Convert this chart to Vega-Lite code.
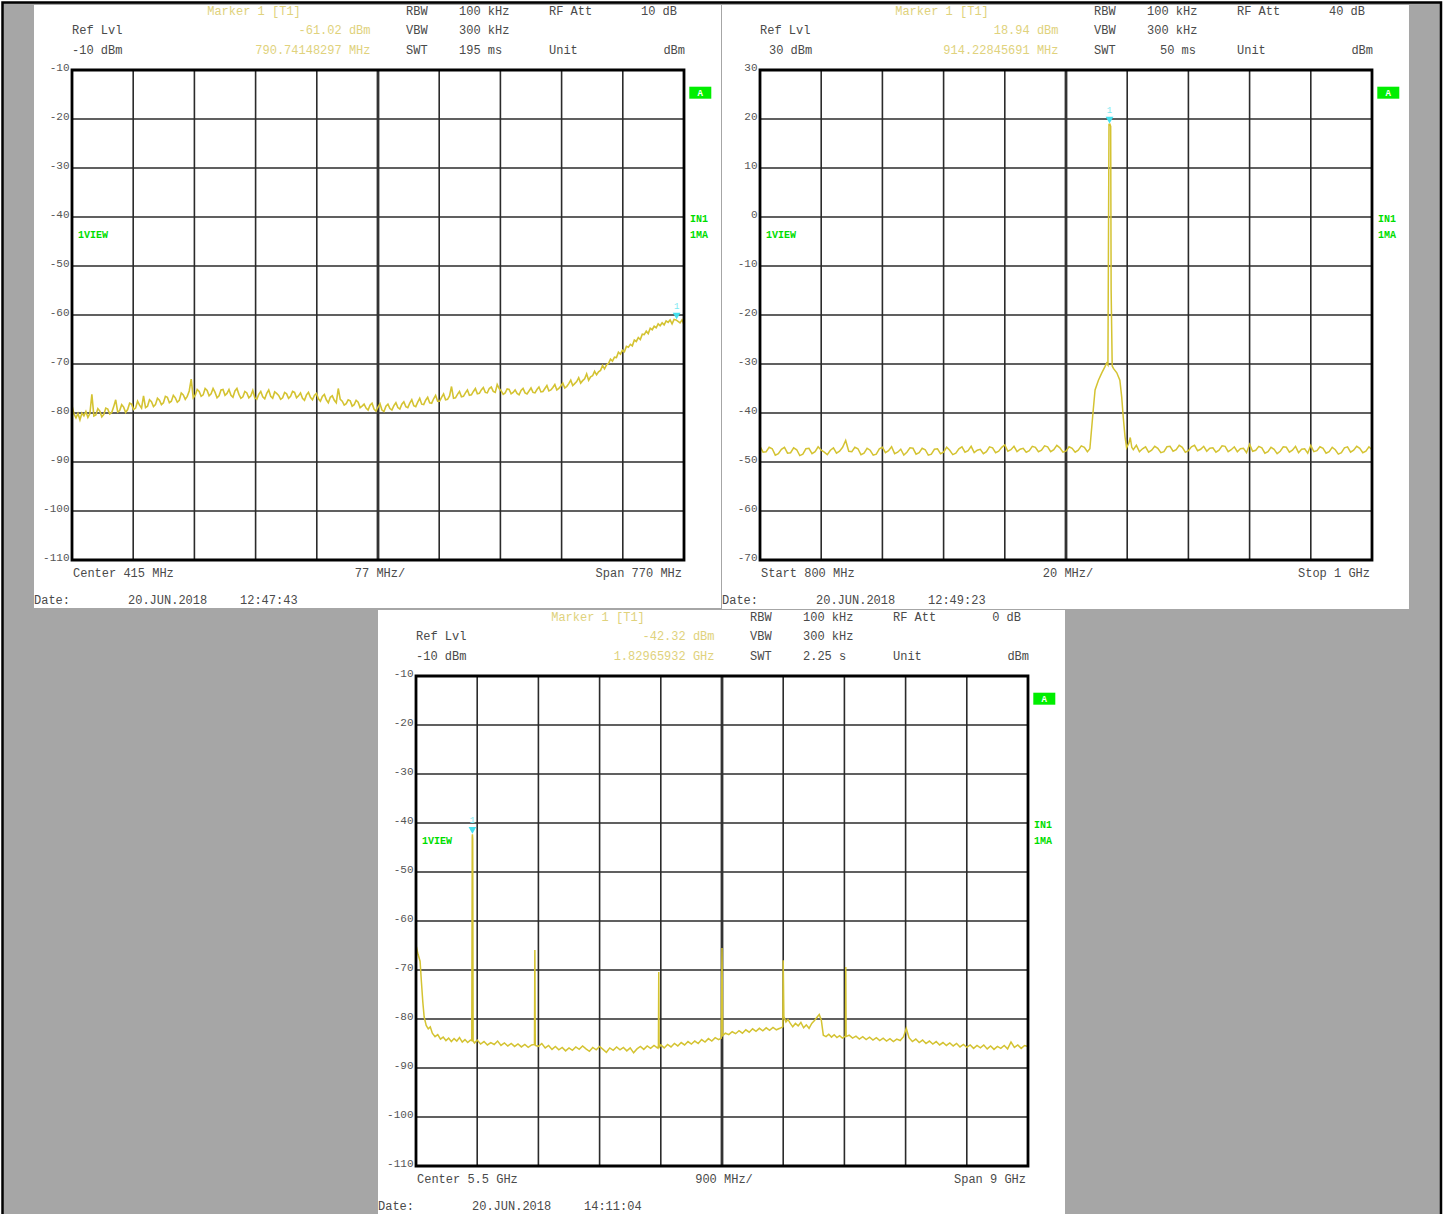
{
"$schema":"https://vega.github.io/schema/vega-lite/v6.json",
"padding":0,
"background":"white",
"config":{"view":{"stroke":null,"fill":null},"axisX":{"disable":true},
"axisY":{"title":null,"domain":false,"ticks":false,"grid":false,"labelFont":"Liberation Mono","labelFontSize":11,"labelColor":"#555555","labelPadding":3,"labelBaseline":"alphabetic","labelExpr":"toString(datum.value)","labelOverlap":false,"labelFlush":false},
"text":{"font":"Liberation Mono","fontSize":12,"baseline":"middle","color":"#4a4a4a"}},
"datasets":{
"panels":[{"p":1,"x":-17.81,"x2":846.55,"y":3.265,"y2":-119.8},{"p":2,"x":787.58,"x2":1012.09,"y":43.265,"y2":-80.0},{"p":3,"x":0.4412,"x2":10.5441,"y":3.469,"y2":-121.0}],
"frames":[{"p":1,"x":30,"x2":800,"y":-10,"y2":-110},{"p":2,"x":800,"x2":1000,"y":30,"y2":-70},{"p":3,"x":1,"x2":10,"y":-10,"y2":-110}],
"gx":[{"p":1,"x":107},{"p":1,"x":184},{"p":1,"x":261},{"p":1,"x":338},{"p":1,"x":415},{"p":1,"x":492},{"p":1,"x":569},{"p":1,"x":646},{"p":1,"x":723},
{"p":2,"x":820},{"p":2,"x":840},{"p":2,"x":860},{"p":2,"x":880},{"p":2,"x":900},{"p":2,"x":920},{"p":2,"x":940},{"p":2,"x":960},{"p":2,"x":980},
{"p":3,"x":1.9},{"p":3,"x":2.8},{"p":3,"x":3.7},{"p":3,"x":4.6},{"p":3,"x":5.5},{"p":3,"x":6.4},{"p":3,"x":7.3},{"p":3,"x":8.2},{"p":3,"x":9.1}],
"gy":[{"p":1,"y":-20},{"p":1,"y":-30},{"p":1,"y":-40},{"p":1,"y":-50},{"p":1,"y":-60},{"p":1,"y":-70},{"p":1,"y":-80},{"p":1,"y":-90},{"p":1,"y":-100},
{"p":2,"y":20},{"p":2,"y":10},{"p":2,"y":0},{"p":2,"y":-10},{"p":2,"y":-20},{"p":2,"y":-30},{"p":2,"y":-40},{"p":2,"y":-50},{"p":2,"y":-60},
{"p":3,"y":-20},{"p":3,"y":-30},{"p":3,"y":-40},{"p":3,"y":-50},{"p":3,"y":-60},{"p":3,"y":-70},{"p":3,"y":-80},{"p":3,"y":-90},{"p":3,"y":-100}],
"gc":[{"p":1,"x":415},{"p":2,"x":900},{"p":3,"x":5.5}],
"mk":[{"p":1,"f":790.74148297,"d":-61.02},{"p":2,"f":914.22845691,"d":18.94},{"p":3,"f":1.82965932,"d":-42.32}],
"tL":[
{"p":1,"x":30,"y":-1.837,"t":"Ref Lvl"},{"p":1,"x":30,"y":-5.918,"t":"-10 dBm"},
{"p":1,"x":450.23,"y":1.939,"t":"RBW"},{"p":1,"x":450.23,"y":-1.837,"t":"VBW"},{"p":1,"x":450.23,"y":-5.918,"t":"SWT"},
{"p":1,"x":516.91,"y":1.939,"t":"100 kHz"},{"p":1,"x":516.91,"y":-1.837,"t":"300 kHz"},{"p":1,"x":516.91,"y":-5.918,"t":"195 ms"},
{"p":1,"x":630.15,"y":1.939,"t":"RF Att"},{"p":1,"x":630.15,"y":-5.918,"t":"Unit"},
{"p":1,"x":31.26,"y":-112.755,"t":"Center 415 MHz"},
{"p":1,"x":-17.81,"y":-118.265,"t":"Date:"},{"p":1,"x":100.46,"y":-118.265,"t":"20.JUN.2018"},{"p":1,"x":241.37,"y":-118.265,"t":"12:47:43"},
{"p":2,"x":800,"y":38.163,"t":"Ref Lvl"},{"p":2,"x":802.94,"y":34.082,"t":"30 dBm"},
{"p":2,"x":909.15,"y":41.939,"t":"RBW"},{"p":2,"x":909.15,"y":38.163,"t":"VBW"},{"p":2,"x":909.15,"y":34.082,"t":"SWT"},
{"p":2,"x":926.47,"y":41.939,"t":"100 kHz"},{"p":2,"x":926.47,"y":38.163,"t":"300 kHz"},
{"p":2,"x":955.88,"y":41.939,"t":"RF Att"},{"p":2,"x":955.88,"y":34.082,"t":"Unit"},
{"p":2,"x":800.33,"y":-72.755,"t":"Start 800 MHz"},
{"p":2,"x":787.58,"y":-78.265,"t":"Date:"},{"p":2,"x":818.3,"y":-78.265,"t":"20.JUN.2018"},{"p":2,"x":854.9,"y":-78.265,"t":"12:49:23"},
{"p":3,"x":1,"y":-1.837,"t":"Ref Lvl"},{"p":3,"x":1,"y":-5.918,"t":"-10 dBm"},
{"p":3,"x":5.9118,"y":1.939,"t":"RBW"},{"p":3,"x":5.9118,"y":-1.837,"t":"VBW"},{"p":3,"x":5.9118,"y":-5.918,"t":"SWT"},
{"p":3,"x":6.6912,"y":1.939,"t":"100 kHz"},{"p":3,"x":6.6912,"y":-1.837,"t":"300 kHz"},{"p":3,"x":6.6912,"y":-5.918,"t":"2.25 s"},
{"p":3,"x":8.0147,"y":1.939,"t":"RF Att"},{"p":3,"x":8.0147,"y":-5.918,"t":"Unit"},
{"p":3,"x":1.0147,"y":-112.755,"t":"Center 5.5 GHz"},
{"p":3,"x":0.4412,"y":-118.265,"t":"Date:"},{"p":3,"x":1.8235,"y":-118.265,"t":"20.JUN.2018"},{"p":3,"x":3.4706,"y":-118.265,"t":"14:11:04"}],
"tR":[{"p":1,"x":791.19,"y":1.939,"t":"10 dB"},{"p":1,"x":801.26,"y":-5.918,"t":"dBm"},{"p":1,"x":797.48,"y":-112.755,"t":"Span 770 MHz"},
{"p":2,"x":997.71,"y":41.939,"t":"40 dB"},{"p":2,"x":942.48,"y":34.082,"t":"50 ms"},{"p":2,"x":1000.33,"y":34.082,"t":"dBm"},{"p":2,"x":999.35,"y":-72.755,"t":"Stop 1 GHz"},
{"p":3,"x":9.8971,"y":1.939,"t":"0 dB"},{"p":3,"x":10.0147,"y":-5.918,"t":"dBm"},{"p":3,"x":9.9706,"y":-112.755,"t":"Span 9 GHz"}],
"tC":[{"p":1,"x":417.52,"y":-112.755,"t":"77 MHz/"},{"p":2,"x":900.65,"y":-72.755,"t":"20 MHz/"},{"p":3,"x":5.5294,"y":-112.755,"t":"900 MHz/"}],
"yR":[{"p":1,"x":405.56,"y":-1.837,"t":"-61.02 dBm"},{"p":1,"x":405.56,"y":-5.918,"t":"790.74148297 MHz"},
{"p":2,"x":897.55,"y":38.163,"t":"18.94 dBm"},{"p":2,"x":897.55,"y":34.082,"t":"914.22845691 MHz"},
{"p":3,"x":5.3897,"y":-1.837,"t":"-42.32 dBm"},{"p":3,"x":5.3897,"y":-5.918,"t":"1.82965932 GHz"}],
"yC":[{"p":1,"x":258.99,"y":1.939,"t":"Marker 1 [T1]"},{"p":2,"x":859.48,"y":41.939,"t":"Marker 1 [T1]"},{"p":3,"x":3.6765,"y":1.939,"t":"Marker 1 [T1]"}],
"gL":[{"p":1,"x":37.55,"y":-43.673,"t":"1VIEW"},{"p":1,"x":807.55,"y":-40.408,"t":"IN1"},{"p":1,"x":807.55,"y":-43.673,"t":"1MA"},
{"p":2,"x":801.96,"y":-3.673,"t":"1VIEW"},{"p":2,"x":1001.96,"y":-0.408,"t":"IN1"},{"p":2,"x":1001.96,"y":-3.673,"t":"1MA"},
{"p":3,"x":1.0882,"y":-43.673,"t":"1VIEW"},{"p":3,"x":10.0882,"y":-40.408,"t":"IN1"},{"p":3,"x":10.0882,"y":-43.673,"t":"1MA"}],
"boxA":[{"p":1,"x":806.66,"x2":834.35,"y":-13.408,"y2":-15.857,"xc":820.5,"yc":-14.633,"t":"A"},
{"p":2,"x":1001.73,"x2":1008.92,"y":26.592,"y2":24.143,"xc":1005.33,"yc":25.367,"t":"A"},
{"p":3,"x":10.0779,"x2":10.4015,"y":-13.408,"y2":-15.857,"xc":10.2397,"yc":-14.633,"t":"A"}],
"tr1":[{"f":30,"d":-78.5},{"f":32.5,"d":-80.2},{"f":35,"d":-81.0},{"f":37.5,"d":-80.1},{"f":40,"d":-81.4},{"f":42.5,"d":-80.0},{"f":45,"d":-80.6},{"f":47.5,"d":-79.7},{"f":50,"d":-80.9},{"f":52.5,"d":-80.1},{"f":55,"d":-76.2},{"f":57.5,"d":-80.6},{"f":60,"d":-80.4},{"f":62.5,"d":-79.1},{"f":65,"d":-79.6},{"f":67.5,"d":-80.8},{"f":70,"d":-80.3},{"f":72.5,"d":-79.0},{"f":75,"d":-79.2},{"f":77.5,"d":-80.2},{"f":80,"d":-79.9},{"f":82.5,"d":-78.7},{"f":85,"d":-77.3},{"f":87.5,"d":-79.8},{"f":90,"d":-79.5},{"f":92.5,"d":-78.3},{"f":95,"d":-78.8},{"f":97.5,"d":-79.9},{"f":100,"d":-79.3},{"f":102.5,"d":-78.0},{"f":105,"d":-78.2},{"f":107.5,"d":-79.3},{"f":110,"d":-79.0},{"f":112.5,"d":-77.6},{"f":115,"d":-78.4},{"f":117.5,"d":-79.0},{"f":120,"d":-76.5},{"f":122.5,"d":-78.9},{"f":125,"d":-78.6},{"f":127.5,"d":-77.3},{"f":130,"d":-77.7},{"f":132.5,"d":-78.7},{"f":135,"d":-78.3},{"f":137.5,"d":-77.0},{"f":140,"d":-77.4},{"f":142.5,"d":-78.3},{"f":145,"d":-77.9},{"f":147.5,"d":-76.6},{"f":150,"d":-76.8},{"f":152.5,"d":-77.9},{"f":155,"d":-77.6},{"f":157.5,"d":-76.4},{"f":160,"d":-76.9},{"f":162.5,"d":-77.8},{"f":165,"d":-77.4},{"f":167.5,"d":-75.9},{"f":170,"d":-76.3},{"f":172.5,"d":-77.2},{"f":175,"d":-76.6},{"f":177.5,"d":-75.5},{"f":180,"d":-73.1},{"f":182.5,"d":-76.9},{"f":185,"d":-76.4},{"f":187.5,"d":-75.2},{"f":190,"d":-75.6},{"f":192.5,"d":-76.6},{"f":195,"d":-76.3},{"f":197.5,"d":-75.0},{"f":200,"d":-75.4},{"f":202.5,"d":-76.5},{"f":205,"d":-76.1},{"f":207.5,"d":-75.0},{"f":210,"d":-75.8},{"f":212.5,"d":-76.9},{"f":215,"d":-76.5},{"f":217.5,"d":-75.3},{"f":220,"d":-75.2},{"f":222.5,"d":-76.4},{"f":225,"d":-76.0},{"f":227.5,"d":-75.2},{"f":230,"d":-76.4},{"f":232.5,"d":-76.8},{"f":235,"d":-75.5},{"f":237.5,"d":-75.0},{"f":240,"d":-76.2},{"f":242.5,"d":-77.0},{"f":245,"d":-76.7},{"f":247.5,"d":-75.6},{"f":250,"d":-75.9},{"f":252.5,"d":-76.9},{"f":255,"d":-76.5},{"f":257.5,"d":-75.4},{"f":260,"d":-76.9},{"f":262.5,"d":-77.2},{"f":265,"d":-76.2},{"f":267.5,"d":-75.6},{"f":270,"d":-76.7},{"f":272.5,"d":-77.1},{"f":275,"d":-76.0},{"f":277.5,"d":-75.3},{"f":280,"d":-76.6},{"f":282.5,"d":-77.0},{"f":285,"d":-75.7},{"f":287.5,"d":-76.0},{"f":290,"d":-76.4},{"f":292.5,"d":-77.2},{"f":295,"d":-76.9},{"f":297.5,"d":-75.8},{"f":300,"d":-76.1},{"f":302.5,"d":-77.0},{"f":305,"d":-76.6},{"f":307.5,"d":-75.6},{"f":310,"d":-75.8},{"f":312.5,"d":-76.9},{"f":315,"d":-76.5},{"f":317.5,"d":-75.9},{"f":320,"d":-77.0},{"f":322.5,"d":-77.4},{"f":325,"d":-76.3},{"f":327.5,"d":-75.8},{"f":330,"d":-76.8},{"f":332.5,"d":-77.3},{"f":335,"d":-76.4},{"f":337.5,"d":-76.0},{"f":340,"d":-77.1},{"f":342.5,"d":-77.6},{"f":345,"d":-76.6},{"f":347.5,"d":-76.2},{"f":350,"d":-77.3},{"f":352.5,"d":-77.9},{"f":355,"d":-76.8},{"f":357.5,"d":-76.5},{"f":360,"d":-77.4},{"f":362.5,"d":-77.9},{"f":365,"d":-75.0},{"f":367.5,"d":-77.2},{"f":370,"d":-77.6},{"f":372.5,"d":-78.4},{"f":375,"d":-78.1},{"f":377.5,"d":-77.3},{"f":380,"d":-77.5},{"f":382.5,"d":-78.6},{"f":385,"d":-78.3},{"f":387.5,"d":-77.4},{"f":390,"d":-77.8},{"f":392.5,"d":-78.9},{"f":395,"d":-78.6},{"f":397.5,"d":-78.2},{"f":400,"d":-79.0},{"f":402.5,"d":-79.4},{"f":405,"d":-78.4},{"f":407.5,"d":-78.0},{"f":410,"d":-79.2},{"f":412.5,"d":-79.6},{"f":415,"d":-78.8},{"f":417.5,"d":-78.1},{"f":420,"d":-79.4},{"f":422.5,"d":-79.7},{"f":425,"d":-78.6},{"f":427.5,"d":-78.2},{"f":430,"d":-79.1},{"f":432.5,"d":-79.4},{"f":435,"d":-78.5},{"f":437.5,"d":-77.9},{"f":440,"d":-78.9},{"f":442.5,"d":-79.2},{"f":445,"d":-78.2},{"f":447.5,"d":-77.7},{"f":450,"d":-78.7},{"f":452.5,"d":-78.9},{"f":455,"d":-78.0},{"f":457.5,"d":-77.3},{"f":460,"d":-78.5},{"f":462.5,"d":-78.7},{"f":465,"d":-77.8},{"f":467.5,"d":-77.0},{"f":470,"d":-78.2},{"f":472.5,"d":-78.3},{"f":475,"d":-77.4},{"f":477.5,"d":-76.8},{"f":480,"d":-77.9},{"f":482.5,"d":-78.0},{"f":485,"d":-77.1},{"f":487.5,"d":-76.4},{"f":490,"d":-77.6},{"f":492.5,"d":-77.6},{"f":495,"d":-76.8},{"f":497.5,"d":-76.1},{"f":500,"d":-77.3},{"f":502.5,"d":-77.2},{"f":505,"d":-76.5},{"f":507.5,"d":-74.6},{"f":510,"d":-77.0},{"f":512.5,"d":-76.9},{"f":515,"d":-76.2},{"f":517.5,"d":-75.6},{"f":520,"d":-76.7},{"f":522.5,"d":-76.6},{"f":525,"d":-75.9},{"f":527.5,"d":-75.3},{"f":530,"d":-76.4},{"f":532.5,"d":-76.3},{"f":535,"d":-75.6},{"f":537.5,"d":-75.0},{"f":540,"d":-76.1},{"f":542.5,"d":-76.0},{"f":545,"d":-75.3},{"f":547.5,"d":-74.8},{"f":550,"d":-75.8},{"f":552.5,"d":-75.9},{"f":555,"d":-75.0},{"f":557.5,"d":-74.7},{"f":560,"d":-75.6},{"f":562.5,"d":-75.8},{"f":565,"d":-74.2},{"f":567.5,"d":-75.0},{"f":570,"d":-75.5},{"f":572.5,"d":-76.2},{"f":575,"d":-75.9},{"f":577.5,"d":-75.1},{"f":580,"d":-75.2},{"f":582.5,"d":-76.1},{"f":585,"d":-75.8},{"f":587.5,"d":-75.3},{"f":590,"d":-76.0},{"f":592.5,"d":-76.3},{"f":595,"d":-75.4},{"f":597.5,"d":-75.0},{"f":600,"d":-75.9},{"f":602.5,"d":-76.1},{"f":605,"d":-75.5},{"f":607.5,"d":-74.9},{"f":610,"d":-75.8},{"f":612.5,"d":-75.9},{"f":615,"d":-75.2},{"f":617.5,"d":-74.7},{"f":620,"d":-75.7},{"f":622.5,"d":-75.6},{"f":625,"d":-75.0},{"f":627.5,"d":-74.4},{"f":630,"d":-75.5},{"f":632.5,"d":-75.3},{"f":635,"d":-74.8},{"f":637.5,"d":-74.2},{"f":640,"d":-75.3},{"f":642.5,"d":-75.0},{"f":645,"d":-74.5},{"f":647.5,"d":-73.9},{"f":650,"d":-74.9},{"f":652.5,"d":-74.6},{"f":655,"d":-74.0},{"f":657.5,"d":-73.3},{"f":660,"d":-74.4},{"f":662.5,"d":-74.0},{"f":665,"d":-73.6},{"f":667.5,"d":-72.8},{"f":670,"d":-73.9},{"f":672.5,"d":-73.4},{"f":675,"d":-73.0},{"f":677.5,"d":-72.0},{"f":680,"d":-73.3},{"f":682.5,"d":-72.6},{"f":685,"d":-72.4},{"f":687.5,"d":-71.5},{"f":690,"d":-72.2},{"f":692.5,"d":-71.6},{"f":695,"d":-71.3},{"f":697.5,"d":-70.3},{"f":700,"d":-71.0},{"f":702.5,"d":-70.2},{"f":705,"d":-69.9},{"f":707.5,"d":-69.0},{"f":710,"d":-69.4},{"f":712.5,"d":-68.6},{"f":715,"d":-68.7},{"f":717.5,"d":-67.6},{"f":720,"d":-68.0},{"f":722.5,"d":-67.2},{"f":725,"d":-67.5},{"f":727.5,"d":-66.4},{"f":730,"d":-66.6},{"f":732.5,"d":-66.0},{"f":735,"d":-66.3},{"f":737.5,"d":-65.1},{"f":740,"d":-65.4},{"f":742.5,"d":-64.6},{"f":745,"d":-65.0},{"f":747.5,"d":-63.9},{"f":750,"d":-64.0},{"f":752.5,"d":-63.3},{"f":755,"d":-63.8},{"f":757.5,"d":-62.7},{"f":760,"d":-63.0},{"f":762.5,"d":-62.3},{"f":765,"d":-62.6},{"f":767.5,"d":-61.8},{"f":770,"d":-62.2},{"f":772.5,"d":-61.6},{"f":775,"d":-62.0},{"f":777.5,"d":-61.2},{"f":780,"d":-61.5},{"f":782.5,"d":-61.0},{"f":785,"d":-61.8},{"f":787.5,"d":-60.9},{"f":790,"d":-61.0},{"f":792.5,"d":-61.3},{"f":795,"d":-61.6},{"f":797.5,"d":-61.0},{"f":800,"d":-61.9}],
"tr2":[{"f":800,"d":-46.8},{"f":801,"d":-48.0},{"f":802,"d":-47.9},{"f":803,"d":-47.0},{"f":804,"d":-47.3},{"f":805,"d":-48.6},{"f":806,"d":-48.3},{"f":807,"d":-47.4},{"f":808,"d":-47.0},{"f":809,"d":-48.2},{"f":810,"d":-48.1},{"f":811,"d":-47.1},{"f":812,"d":-47.5},{"f":813,"d":-48.7},{"f":814,"d":-48.4},{"f":815,"d":-47.3},{"f":816,"d":-47.2},{"f":817,"d":-48.3},{"f":818,"d":-47.9},{"f":819,"d":-46.9},{"f":820,"d":-47.6},{"f":821,"d":-48.0},{"f":822,"d":-48.5},{"f":823,"d":-47.6},{"f":824,"d":-47.1},{"f":825,"d":-48.2},{"f":826,"d":-47.8},{"f":827,"d":-47.0},{"f":828,"d":-45.6},{"f":829,"d":-47.8},{"f":830,"d":-47.9},{"f":831,"d":-47.0},{"f":832,"d":-47.3},{"f":833,"d":-48.5},{"f":834,"d":-48.2},{"f":835,"d":-47.2},{"f":836,"d":-47.6},{"f":837,"d":-48.6},{"f":838,"d":-48.4},{"f":839,"d":-47.3},{"f":840,"d":-47.0},{"f":841,"d":-48.1},{"f":842,"d":-47.7},{"f":843,"d":-46.9},{"f":844,"d":-48.3},{"f":845,"d":-48.0},{"f":846,"d":-47.4},{"f":847,"d":-48.6},{"f":848,"d":-48.0},{"f":849,"d":-47.1},{"f":850,"d":-47.2},{"f":851,"d":-48.4},{"f":852,"d":-48.1},{"f":853,"d":-47.2},{"f":854,"d":-47.5},{"f":855,"d":-48.6},{"f":856,"d":-48.4},{"f":857,"d":-47.4},{"f":858,"d":-47.3},{"f":859,"d":-48.3},{"f":860,"d":-48.0},{"f":861,"d":-47.0},{"f":862,"d":-47.6},{"f":863,"d":-48.5},{"f":864,"d":-48.2},{"f":865,"d":-47.3},{"f":866,"d":-46.9},{"f":867,"d":-48.0},{"f":868,"d":-47.7},{"f":869,"d":-46.8},{"f":870,"d":-48.1},{"f":871,"d":-47.6},{"f":872,"d":-47.4},{"f":873,"d":-48.3},{"f":874,"d":-47.9},{"f":875,"d":-46.9},{"f":876,"d":-47.1},{"f":877,"d":-48.1},{"f":878,"d":-47.8},{"f":879,"d":-47.0},{"f":880,"d":-46.5},{"f":881,"d":-47.8},{"f":882,"d":-47.5},{"f":883,"d":-46.8},{"f":884,"d":-47.9},{"f":885,"d":-47.4},{"f":886,"d":-47.2},{"f":887,"d":-48.0},{"f":888,"d":-47.7},{"f":889,"d":-46.8},{"f":890,"d":-47.0},{"f":891,"d":-47.9},{"f":892,"d":-47.6},{"f":893,"d":-46.7},{"f":894,"d":-46.9},{"f":895,"d":-47.9},{"f":896,"d":-47.5},{"f":897,"d":-46.6},{"f":898,"d":-47.1},{"f":899,"d":-48.0},{"f":900,"d":-47.8},{"f":901,"d":-46.9},{"f":902,"d":-47.2},{"f":903,"d":-48.0},{"f":904,"d":-47.6},{"f":905,"d":-46.7},{"f":906,"d":-47.0},{"f":907,"d":-47.9},{"f":907.8,"d":-47.3},{"f":908.9,"d":-39.4},{"f":909.5,"d":-35.3},{"f":910.6,"d":-33.3},{"f":911.7,"d":-31.8},{"f":912.7,"d":-30.6},{"f":913.3,"d":-29.8},{"f":913.7,"d":-30.2},{"f":914.05,"d":18.9},{"f":914.35,"d":18.94},{"f":914.6,"d":18.5},{"f":914.75,"d":-14.9},{"f":915.1,"d":-30.4},{"f":915.5,"d":-30.9},{"f":916.6,"d":-31.8},{"f":917.6,"d":-33.3},{"f":918.2,"d":-36.7},{"f":918.7,"d":-40.8},{"f":919.3,"d":-44.9},{"f":919.8,"d":-47.1},{"f":920.5,"d":-46.2},{"f":921,"d":-45.0},{"f":921.5,"d":-47.0},{"f":922,"d":-47.5},{"f":923,"d":-46.6},{"f":924,"d":-47.9},{"f":925,"d":-47.3},{"f":926,"d":-46.9},{"f":927,"d":-48.0},{"f":928,"d":-47.6},{"f":929,"d":-46.8},{"f":930,"d":-47.2},{"f":931,"d":-48.1},{"f":932,"d":-47.9},{"f":933,"d":-46.9},{"f":934,"d":-46.8},{"f":935,"d":-47.8},{"f":936,"d":-47.5},{"f":937,"d":-46.6},{"f":938,"d":-47.0},{"f":939,"d":-48.0},{"f":940,"d":-47.7},{"f":941,"d":-46.9},{"f":942,"d":-46.6},{"f":943,"d":-47.7},{"f":944,"d":-47.4},{"f":945,"d":-46.8},{"f":946,"d":-47.8},{"f":947,"d":-47.2},{"f":948,"d":-47.1},{"f":949,"d":-48.0},{"f":950,"d":-47.6},{"f":951,"d":-46.7},{"f":952,"d":-46.8},{"f":953,"d":-47.9},{"f":954,"d":-47.5},{"f":955,"d":-46.9},{"f":956,"d":-47.9},{"f":957,"d":-47.3},{"f":958,"d":-47.2},{"f":959,"d":-48.1},{"f":960,"d":-46.4},{"f":961,"d":-47.8},{"f":962,"d":-47.6},{"f":963,"d":-46.8},{"f":964,"d":-47.1},{"f":965,"d":-48.2},{"f":966,"d":-47.9},{"f":967,"d":-47.0},{"f":968,"d":-47.4},{"f":969,"d":-48.3},{"f":970,"d":-47.8},{"f":971,"d":-46.9},{"f":972,"d":-47.0},{"f":973,"d":-48.0},{"f":974,"d":-47.6},{"f":975,"d":-46.8},{"f":976,"d":-48.1},{"f":977,"d":-47.4},{"f":978,"d":-47.3},{"f":979,"d":-48.2},{"f":980,"d":-46.6},{"f":981,"d":-47.9},{"f":982,"d":-47.7},{"f":983,"d":-46.9},{"f":984,"d":-47.2},{"f":985,"d":-48.2},{"f":986,"d":-47.9},{"f":987,"d":-47.0},{"f":988,"d":-47.5},{"f":989,"d":-48.4},{"f":990,"d":-48.1},{"f":991,"d":-47.1},{"f":992,"d":-46.9},{"f":993,"d":-48.0},{"f":994,"d":-47.6},{"f":995,"d":-46.8},{"f":996,"d":-47.2},{"f":997,"d":-48.1},{"f":998,"d":-47.8},{"f":999,"d":-46.9},{"f":1000,"d":-47.5}],
"tr3":[{"f":1.0,"d":-64.9},{"f":1.03,"d":-66.8},{"f":1.06,"d":-68.2},{"f":1.08,"d":-72.5},{"f":1.1,"d":-76.5},{"f":1.12,"d":-79.6},{"f":1.15,"d":-81.3},{"f":1.18,"d":-82.0},{"f":1.21,"d":-81.6},{"f":1.24,"d":-82.9},{"f":1.28,"d":-83.6},{"f":1.32,"d":-83.2},{"f":1.36,"d":-84.1},{"f":1.4,"d":-83.7},{"f":1.44,"d":-84.4},{"f":1.48,"d":-83.9},{"f":1.52,"d":-84.6},{"f":1.56,"d":-84.0},{"f":1.6,"d":-84.5},{"f":1.64,"d":-83.8},{"f":1.68,"d":-84.7},{"f":1.72,"d":-84.2},{"f":1.76,"d":-84.8},{"f":1.8,"d":-84.3},{"f":1.82,"d":-84.4},{"f":1.827,"d":-42.9},{"f":1.8297,"d":-42.32},{"f":1.834,"d":-43.2},{"f":1.84,"d":-84.5},{"f":1.86,"d":-84.9},{"f":1.9,"d":-84.3},{"f":1.95,"d":-85.1},{"f":2.0,"d":-84.6},{"f":2.05,"d":-85.3},{"f":2.1,"d":-84.8},{"f":2.15,"d":-85.2},{"f":2.2,"d":-84.5},{"f":2.25,"d":-85.4},{"f":2.3,"d":-84.9},{"f":2.35,"d":-85.5},{"f":2.4,"d":-85.0},{"f":2.45,"d":-85.6},{"f":2.5,"d":-85.1},{"f":2.55,"d":-85.7},{"f":2.6,"d":-85.2},{"f":2.65,"d":-85.8},{"f":2.7,"d":-85.3},{"f":2.742,"d":-85.2},{"f":2.748,"d":-65.9},{"f":2.754,"d":-85.4},{"f":2.8,"d":-85.6},{"f":2.85,"d":-85.0},{"f":2.9,"d":-85.9},{"f":2.95,"d":-85.4},{"f":3.0,"d":-86.2},{"f":3.05,"d":-85.6},{"f":3.1,"d":-86.3},{"f":3.15,"d":-85.8},{"f":3.2,"d":-86.5},{"f":3.25,"d":-85.9},{"f":3.3,"d":-86.4},{"f":3.35,"d":-85.7},{"f":3.4,"d":-86.2},{"f":3.45,"d":-85.5},{"f":3.5,"d":-86.1},{"f":3.55,"d":-86.6},{"f":3.6,"d":-85.8},{"f":3.65,"d":-86.3},{"f":3.7,"d":-85.6},{"f":3.75,"d":-86.2},{"f":3.8,"d":-86.8},{"f":3.85,"d":-85.9},{"f":3.9,"d":-86.4},{"f":3.95,"d":-85.7},{"f":4.0,"d":-86.3},{"f":4.05,"d":-85.8},{"f":4.1,"d":-86.5},{"f":4.15,"d":-85.9},{"f":4.2,"d":-86.9},{"f":4.25,"d":-86.1},{"f":4.3,"d":-85.6},{"f":4.35,"d":-86.2},{"f":4.4,"d":-85.5},{"f":4.45,"d":-86.0},{"f":4.5,"d":-85.4},{"f":4.55,"d":-85.9},{"f":4.565,"d":-85.6},{"f":4.57,"d":-70.4},{"f":4.575,"d":-85.8},{"f":4.6,"d":-85.3},{"f":4.65,"d":-85.9},{"f":4.7,"d":-85.2},{"f":4.75,"d":-85.7},{"f":4.8,"d":-85.0},{"f":4.85,"d":-85.5},{"f":4.9,"d":-84.8},{"f":4.95,"d":-85.3},{"f":5.0,"d":-84.6},{"f":5.05,"d":-85.1},{"f":5.1,"d":-84.5},{"f":5.15,"d":-85.0},{"f":5.2,"d":-84.2},{"f":5.25,"d":-84.7},{"f":5.3,"d":-84.0},{"f":5.35,"d":-84.5},{"f":5.4,"d":-83.8},{"f":5.45,"d":-84.2},{"f":5.49,"d":-83.9},{"f":5.5,"d":-65.5},{"f":5.51,"d":-83.4},{"f":5.55,"d":-82.9},{"f":5.6,"d":-83.2},{"f":5.65,"d":-82.6},{"f":5.7,"d":-83.0},{"f":5.75,"d":-82.4},{"f":5.8,"d":-82.9},{"f":5.85,"d":-82.2},{"f":5.9,"d":-82.7},{"f":5.95,"d":-82.0},{"f":6.0,"d":-82.5},{"f":6.05,"d":-81.9},{"f":6.1,"d":-82.4},{"f":6.15,"d":-81.8},{"f":6.2,"d":-82.3},{"f":6.25,"d":-81.7},{"f":6.3,"d":-82.2},{"f":6.35,"d":-81.9},{"f":6.395,"d":-81.6},{"f":6.4,"d":-68.0},{"f":6.41,"d":-79.5},{"f":6.44,"d":-80.6},{"f":6.47,"d":-80.1},{"f":6.5,"d":-80.8},{"f":6.54,"d":-81.6},{"f":6.58,"d":-80.9},{"f":6.62,"d":-81.4},{"f":6.66,"d":-80.7},{"f":6.7,"d":-81.8},{"f":6.74,"d":-81.2},{"f":6.78,"d":-81.9},{"f":6.82,"d":-80.9},{"f":6.86,"d":-80.3},{"f":6.9,"d":-79.6},{"f":6.93,"d":-79.1},{"f":6.96,"d":-80.2},{"f":6.99,"d":-83.3},{"f":7.03,"d":-83.6},{"f":7.07,"d":-83.1},{"f":7.11,"d":-83.7},{"f":7.15,"d":-83.2},{"f":7.19,"d":-83.8},{"f":7.23,"d":-83.4},{"f":7.27,"d":-83.9},{"f":7.315,"d":-83.5},{"f":7.32,"d":-69.4},{"f":7.325,"d":-83.6},{"f":7.37,"d":-83.3},{"f":7.42,"d":-83.9},{"f":7.47,"d":-83.5},{"f":7.52,"d":-84.1},{"f":7.57,"d":-83.6},{"f":7.62,"d":-84.2},{"f":7.67,"d":-83.7},{"f":7.72,"d":-84.3},{"f":7.77,"d":-83.8},{"f":7.82,"d":-84.4},{"f":7.87,"d":-83.9},{"f":7.92,"d":-84.5},{"f":7.97,"d":-84.0},{"f":8.02,"d":-84.6},{"f":8.07,"d":-84.1},{"f":8.12,"d":-84.4},{"f":8.17,"d":-83.6},{"f":8.21,"d":-81.9},{"f":8.25,"d":-83.8},{"f":8.3,"d":-84.6},{"f":8.35,"d":-84.1},{"f":8.4,"d":-84.8},{"f":8.45,"d":-84.3},{"f":8.5,"d":-85.0},{"f":8.55,"d":-84.5},{"f":8.6,"d":-85.1},{"f":8.65,"d":-84.6},{"f":8.7,"d":-85.3},{"f":8.75,"d":-84.8},{"f":8.8,"d":-85.4},{"f":8.85,"d":-84.9},{"f":8.9,"d":-85.5},{"f":8.95,"d":-85.0},{"f":9.0,"d":-85.7},{"f":9.05,"d":-85.2},{"f":9.1,"d":-85.8},{"f":9.15,"d":-85.3},{"f":9.2,"d":-86.0},{"f":9.25,"d":-85.4},{"f":9.3,"d":-85.9},{"f":9.35,"d":-85.3},{"f":9.4,"d":-86.1},{"f":9.45,"d":-85.5},{"f":9.5,"d":-86.2},{"f":9.55,"d":-85.6},{"f":9.6,"d":-86.0},{"f":9.65,"d":-85.4},{"f":9.7,"d":-86.1},{"f":9.75,"d":-84.7},{"f":9.8,"d":-85.8},{"f":9.85,"d":-85.3},{"f":9.9,"d":-86.0},{"f":9.95,"d":-85.4},{"f":10.0,"d":-85.6}]
},
"concat":[
{"width":612,"height":490,
"layer":[
{"data":{"values":[{"x":-60.588,"x2":1758.73,"y":4.2857,"y2":-243.47}]},"mark":{"type":"rect","fill":"white"},"encoding":{"x":{"field":"x","type":"quantitative","scale":{"domain":[30,800],"zero":false,"nice":false}},"x2":{"field":"x2"},"y":{"field":"y","type":"quantitative","scale":{"domain":[-110,-10],"zero":false,"nice":false},"axis":{"values":[-10,-20,-30,-40,-50,-60,-70,-80,-90,-100,-110],"zindex":1}},"y2":{"field":"y2"}}},
{"data":{"values":[{"x":-57.44,"x2":1752.43,"y":3.776,"y2":-248.78}]},"mark":{"type":"rect","fill":"#a6a6a6","stroke":"black","strokeWidth":2.5},"encoding":{"x":{"field":"x","type":"quantitative","scale":{"domain":[30,800],"zero":false,"nice":false}},"x2":{"field":"x2"},"y":{"field":"y","type":"quantitative","scale":{"domain":[-110,-10],"zero":false,"nice":false}},"y2":{"field":"y2"}}},
{"data":{"name":"panels"},"transform":[{"filter":"datum.p == 1"}],"mark":{"type":"rect","fill":"white"},"encoding":{"x":{"field":"x","type":"quantitative"},"x2":{"field":"x2"},"y":{"field":"y","type":"quantitative"},"y2":{"field":"y2"}}},
{"data":{"name":"gx"},"transform":[{"filter":"datum.p == 1"}],"mark":{"type":"rule","color":"#2b2b2b","strokeWidth":1.6},"encoding":{"x":{"field":"x","type":"quantitative"}}},
{"data":{"name":"gy"},"transform":[{"filter":"datum.p == 1"}],"mark":{"type":"rule","color":"#2b2b2b","strokeWidth":1.6},"encoding":{"y":{"field":"y","type":"quantitative"}}},
{"data":{"name":"gc"},"transform":[{"filter":"datum.p == 1"}],"mark":{"type":"rule","color":"#333333","strokeWidth":2.8},"encoding":{"x":{"field":"x","type":"quantitative"}}},
{"data":{"name":"tr1"},"mark":{"type":"line","color":"#d4c332","strokeWidth":1.6},"encoding":{"x":{"field":"f","type":"quantitative"},"y":{"field":"d","type":"quantitative"}}},
{"data":{"name":"frames"},"transform":[{"filter":"datum.p == 1"}],"mark":{"type":"rect","fill":null,"stroke":"black","strokeWidth":2.8},"encoding":{"x":{"field":"x","type":"quantitative"},"x2":{"field":"x2"},"y":{"field":"y","type":"quantitative"},"y2":{"field":"y2"}}},
{"data":{"name":"mk"},"transform":[{"filter":"datum.p == 1"}],"mark":{"type":"point","shape":"triangle-down","filled":true,"color":"#45e0ee","opacity":1,"size":60,"yOffset":-4},"encoding":{"x":{"field":"f","type":"quantitative"},"y":{"field":"d","type":"quantitative"}}},
{"data":{"name":"mk"},"transform":[{"filter":"datum.p == 1"}],"mark":{"type":"text","text":"1","color":"#7ce9f2","fontSize":9,"dy":-14},"encoding":{"x":{"field":"f","type":"quantitative"},"y":{"field":"d","type":"quantitative"}}},
{"data":{"name":"tL"},"transform":[{"filter":"datum.p == 1"}],"mark":{"type":"text","align":"left"},"encoding":{"x":{"field":"x","type":"quantitative"},"y":{"field":"y","type":"quantitative"},"text":{"field":"t"}}},
{"data":{"name":"tR"},"transform":[{"filter":"datum.p == 1"}],"mark":{"type":"text","align":"right"},"encoding":{"x":{"field":"x","type":"quantitative"},"y":{"field":"y","type":"quantitative"},"text":{"field":"t"}}},
{"data":{"name":"tC"},"transform":[{"filter":"datum.p == 1"}],"mark":{"type":"text","align":"center"},"encoding":{"x":{"field":"x","type":"quantitative"},"y":{"field":"y","type":"quantitative"},"text":{"field":"t"}}},
{"data":{"name":"yR"},"transform":[{"filter":"datum.p == 1"}],"mark":{"type":"text","align":"right","color":"#e0d27c"},"encoding":{"x":{"field":"x","type":"quantitative"},"y":{"field":"y","type":"quantitative"},"text":{"field":"t"}}},
{"data":{"name":"yC"},"transform":[{"filter":"datum.p == 1"}],"mark":{"type":"text","align":"center","color":"#e0d27c"},"encoding":{"x":{"field":"x","type":"quantitative"},"y":{"field":"y","type":"quantitative"},"text":{"field":"t"}}},
{"data":{"name":"gL"},"transform":[{"filter":"datum.p == 1"}],"mark":{"type":"text","align":"left","color":"#00dd00","fontSize":10,"fontWeight":"bold"},"encoding":{"x":{"field":"x","type":"quantitative"},"y":{"field":"y","type":"quantitative"},"text":{"field":"t"}}},
{"data":{"name":"boxA"},"transform":[{"filter":"datum.p == 1"}],"mark":{"type":"rect","fill":"#00ee00"},"encoding":{"x":{"field":"x","type":"quantitative"},"x2":{"field":"x2"},"y":{"field":"y","type":"quantitative"},"y2":{"field":"y2"}}},
{"data":{"name":"boxA"},"transform":[{"filter":"datum.p == 1"}],"mark":{"type":"text","align":"center","color":"white","fontSize":9,"fontWeight":"bold"},"encoding":{"x":{"field":"xc","type":"quantitative"},"y":{"field":"yc","type":"quantitative"},"text":{"field":"t"}}}
]},
{"width":612,"height":490,
"layer":[
{"data":{"name":"panels"},"transform":[{"filter":"datum.p == 2"}],"mark":{"type":"rect","fill":"white"},"encoding":{"x":{"field":"x","type":"quantitative","scale":{"domain":[800,1000],"zero":false,"nice":false}},"x2":{"field":"x2"},"y":{"field":"y","type":"quantitative","scale":{"domain":[-70,30],"zero":false,"nice":false},"axis":{"values":[30,20,10,0,-10,-20,-30,-40,-50,-60,-70],"zindex":1}},"y2":{"field":"y2"}}},
{"data":{"name":"gx"},"transform":[{"filter":"datum.p == 2"}],"mark":{"type":"rule","color":"#2b2b2b","strokeWidth":1.6},"encoding":{"x":{"field":"x","type":"quantitative"}}},
{"data":{"name":"gy"},"transform":[{"filter":"datum.p == 2"}],"mark":{"type":"rule","color":"#2b2b2b","strokeWidth":1.6},"encoding":{"y":{"field":"y","type":"quantitative"}}},
{"data":{"name":"gc"},"transform":[{"filter":"datum.p == 2"}],"mark":{"type":"rule","color":"#333333","strokeWidth":2.8},"encoding":{"x":{"field":"x","type":"quantitative"}}},
{"data":{"name":"tr2"},"mark":{"type":"line","color":"#d4c332","strokeWidth":1.5},"encoding":{"x":{"field":"f","type":"quantitative"},"y":{"field":"d","type":"quantitative"}}},
{"data":{"name":"frames"},"transform":[{"filter":"datum.p == 2"}],"mark":{"type":"rect","fill":null,"stroke":"black","strokeWidth":2.8},"encoding":{"x":{"field":"x","type":"quantitative"},"x2":{"field":"x2"},"y":{"field":"y","type":"quantitative"},"y2":{"field":"y2"}}},
{"data":{"name":"mk"},"transform":[{"filter":"datum.p == 2"}],"mark":{"type":"point","shape":"triangle-down","filled":true,"color":"#45e0ee","opacity":1,"size":60,"yOffset":-4},"encoding":{"x":{"field":"f","type":"quantitative"},"y":{"field":"d","type":"quantitative"}}},
{"data":{"name":"mk"},"transform":[{"filter":"datum.p == 2"}],"mark":{"type":"text","text":"1","color":"#7ce9f2","fontSize":9,"dy":-14},"encoding":{"x":{"field":"f","type":"quantitative"},"y":{"field":"d","type":"quantitative"}}},
{"data":{"name":"tL"},"transform":[{"filter":"datum.p == 2"}],"mark":{"type":"text","align":"left"},"encoding":{"x":{"field":"x","type":"quantitative"},"y":{"field":"y","type":"quantitative"},"text":{"field":"t"}}},
{"data":{"name":"tR"},"transform":[{"filter":"datum.p == 2"}],"mark":{"type":"text","align":"right"},"encoding":{"x":{"field":"x","type":"quantitative"},"y":{"field":"y","type":"quantitative"},"text":{"field":"t"}}},
{"data":{"name":"tC"},"transform":[{"filter":"datum.p == 2"}],"mark":{"type":"text","align":"center"},"encoding":{"x":{"field":"x","type":"quantitative"},"y":{"field":"y","type":"quantitative"},"text":{"field":"t"}}},
{"data":{"name":"yR"},"transform":[{"filter":"datum.p == 2"}],"mark":{"type":"text","align":"right","color":"#e0d27c"},"encoding":{"x":{"field":"x","type":"quantitative"},"y":{"field":"y","type":"quantitative"},"text":{"field":"t"}}},
{"data":{"name":"yC"},"transform":[{"filter":"datum.p == 2"}],"mark":{"type":"text","align":"center","color":"#e0d27c"},"encoding":{"x":{"field":"x","type":"quantitative"},"y":{"field":"y","type":"quantitative"},"text":{"field":"t"}}},
{"data":{"name":"gL"},"transform":[{"filter":"datum.p == 2"}],"mark":{"type":"text","align":"left","color":"#00dd00","fontSize":10,"fontWeight":"bold"},"encoding":{"x":{"field":"x","type":"quantitative"},"y":{"field":"y","type":"quantitative"},"text":{"field":"t"}}},
{"data":{"name":"boxA"},"transform":[{"filter":"datum.p == 2"}],"mark":{"type":"rect","fill":"#00ee00"},"encoding":{"x":{"field":"x","type":"quantitative"},"x2":{"field":"x2"},"y":{"field":"y","type":"quantitative"},"y2":{"field":"y2"}}},
{"data":{"name":"boxA"},"transform":[{"filter":"datum.p == 2"}],"mark":{"type":"text","align":"center","color":"white","fontSize":9,"fontWeight":"bold"},"encoding":{"x":{"field":"xc","type":"quantitative"},"y":{"field":"yc","type":"quantitative"},"text":{"field":"t"}}}
]},
{"width":612,"height":490,
"layer":[
{"data":{"name":"panels"},"transform":[{"filter":"datum.p == 3"}],"mark":{"type":"rect","fill":"white"},"encoding":{"x":{"field":"x","type":"quantitative","scale":{"domain":[1,10],"range":[344,956],"zero":false,"nice":false}},"x2":{"field":"x2"},"y":{"field":"y","type":"quantitative","scale":{"domain":[-110,-10],"zero":false,"nice":false},"axis":{"values":[-10,-20,-30,-40,-50,-60,-70,-80,-90,-100,-110],"zindex":1,"offset":-344}},"y2":{"field":"y2"}}},
{"data":{"name":"gx"},"transform":[{"filter":"datum.p == 3"}],"mark":{"type":"rule","color":"#2b2b2b","strokeWidth":1.6},"encoding":{"x":{"field":"x","type":"quantitative"}}},
{"data":{"name":"gy"},"transform":[{"filter":"datum.p == 3"}],"mark":{"type":"rule","color":"#2b2b2b","strokeWidth":1.6},"encoding":{"y":{"field":"y","type":"quantitative"},"x":{"datum":1,"type":"quantitative"},"x2":{"datum":10}}},
{"data":{"name":"gc"},"transform":[{"filter":"datum.p == 3"}],"mark":{"type":"rule","color":"#333333","strokeWidth":2.8},"encoding":{"x":{"field":"x","type":"quantitative"}}},
{"data":{"name":"tr3"},"mark":{"type":"line","color":"#d4c332","strokeWidth":1.5},"encoding":{"x":{"field":"f","type":"quantitative"},"y":{"field":"d","type":"quantitative"}}},
{"data":{"name":"frames"},"transform":[{"filter":"datum.p == 3"}],"mark":{"type":"rect","fill":null,"stroke":"black","strokeWidth":2.8},"encoding":{"x":{"field":"x","type":"quantitative"},"x2":{"field":"x2"},"y":{"field":"y","type":"quantitative"},"y2":{"field":"y2"}}},
{"data":{"name":"mk"},"transform":[{"filter":"datum.p == 3"}],"mark":{"type":"point","shape":"triangle-down","filled":true,"color":"#45e0ee","opacity":1,"size":60,"yOffset":-4},"encoding":{"x":{"field":"f","type":"quantitative"},"y":{"field":"d","type":"quantitative"}}},
{"data":{"name":"mk"},"transform":[{"filter":"datum.p == 3"}],"mark":{"type":"text","text":"1","color":"#7ce9f2","fontSize":9,"dy":-14},"encoding":{"x":{"field":"f","type":"quantitative"},"y":{"field":"d","type":"quantitative"}}},
{"data":{"name":"tL"},"transform":[{"filter":"datum.p == 3"}],"mark":{"type":"text","align":"left"},"encoding":{"x":{"field":"x","type":"quantitative"},"y":{"field":"y","type":"quantitative"},"text":{"field":"t"}}},
{"data":{"name":"tR"},"transform":[{"filter":"datum.p == 3"}],"mark":{"type":"text","align":"right"},"encoding":{"x":{"field":"x","type":"quantitative"},"y":{"field":"y","type":"quantitative"},"text":{"field":"t"}}},
{"data":{"name":"tC"},"transform":[{"filter":"datum.p == 3"}],"mark":{"type":"text","align":"center"},"encoding":{"x":{"field":"x","type":"quantitative"},"y":{"field":"y","type":"quantitative"},"text":{"field":"t"}}},
{"data":{"name":"yR"},"transform":[{"filter":"datum.p == 3"}],"mark":{"type":"text","align":"right","color":"#e0d27c"},"encoding":{"x":{"field":"x","type":"quantitative"},"y":{"field":"y","type":"quantitative"},"text":{"field":"t"}}},
{"data":{"name":"yC"},"transform":[{"filter":"datum.p == 3"}],"mark":{"type":"text","align":"center","color":"#e0d27c"},"encoding":{"x":{"field":"x","type":"quantitative"},"y":{"field":"y","type":"quantitative"},"text":{"field":"t"}}},
{"data":{"name":"gL"},"transform":[{"filter":"datum.p == 3"}],"mark":{"type":"text","align":"left","color":"#00dd00","fontSize":10,"fontWeight":"bold"},"encoding":{"x":{"field":"x","type":"quantitative"},"y":{"field":"y","type":"quantitative"},"text":{"field":"t"}}},
{"data":{"name":"boxA"},"transform":[{"filter":"datum.p == 3"}],"mark":{"type":"rect","fill":"#00ee00"},"encoding":{"x":{"field":"x","type":"quantitative"},"x2":{"field":"x2"},"y":{"field":"y","type":"quantitative"},"y2":{"field":"y2"}}},
{"data":{"name":"boxA"},"transform":[{"filter":"datum.p == 3"}],"mark":{"type":"text","align":"center","color":"white","fontSize":9,"fontWeight":"bold"},"encoding":{"x":{"field":"xc","type":"quantitative"},"y":{"field":"yc","type":"quantitative"},"text":{"field":"t"}}}
]}
],
"columns":2,
"spacing":{"row":116,"column":76},
"bounds":"flush"
}
